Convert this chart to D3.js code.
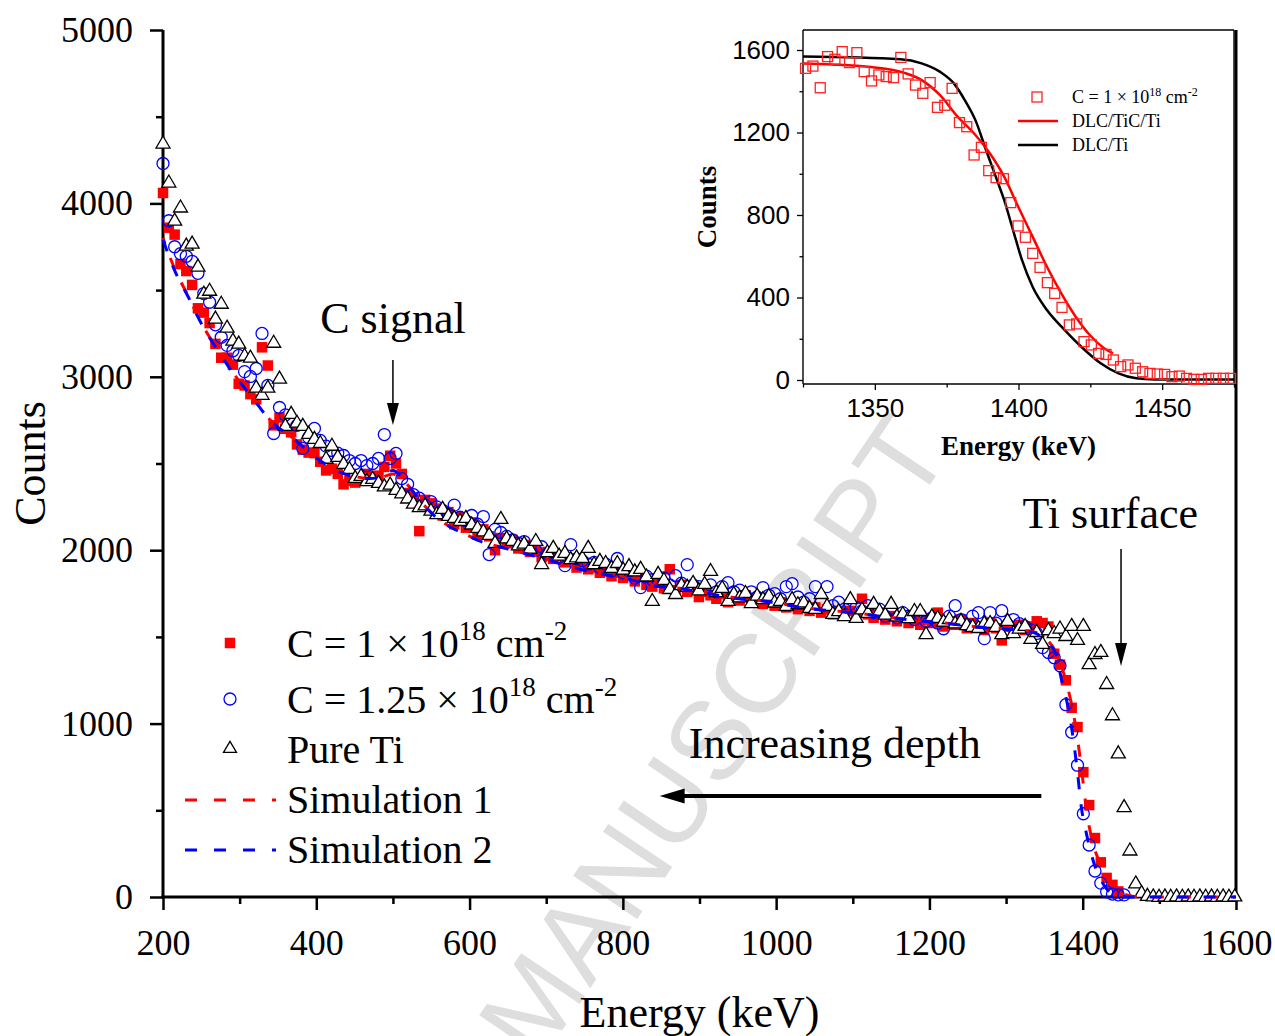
<!DOCTYPE html>
<html><head><meta charset="utf-8">
<script src="https://cdn.jsdelivr.net/npm/d3@7"></script>
<style>body{margin:0;background:#fff}</style>
</head><body>
<svg id="c" width="1275" height="1036" xmlns="http://www.w3.org/2000/svg"></svg>
<script>
// ---------------- DATA ----------------
// main spectra: channel calibration (keV) and counts per channel
const chanStart = 200, chanStep = 7.6;
const countsC1 = [4060,3860,3820,3650,3610,3530,3395,3370,3310,3190,
 3110,3110,3070,2960,2950,2900,2870,3170,3065,2720,
 2765,2700,2680,2610,2580,2563,2560,2510,2460,2470,
 2440,2380,2400,2390,2400,2440,2420,2430,2480,2545,
 2500,2440,2330,2300,2110,2290,2270,2240,2200,2220,
 2150,2190,2130,2160,2090,2120,2080,2000,2070,2040,
 2060,2010,2030,1990,2000,1960,1990,1950,1970,1930,
 1950,1900,1930,1890,1900,1870,1880,1850,1870,1840,
 1860,1820,1850,1800,1790,1830,1780,1890,1770,1800,
 1760,1780,1730,1760,1740,1720,1750,1700,1730,1710,
 1740,1700,1720,1690,1710,1680,1700,1670,1690,1660,
 1680,1650,1670,1640,1660,1630,1650,1640,1650,1620,
 1720,1630,1610,1640,1600,1620,1590,1610,1580,1600,
 1570,1600,1580,1640,1560,1590,1570,1600,1550,1580,
 1560,1540,1580,1550,1480,1560,1530,1570,1540,1560,
 1590,1580,1560,1403,1340,1250,1091,980,720,530,
 340,200,110,70,32];
const countsC125 = [4230,3900,3750,3710,3695,3666,3597,3480,3430,3300,
 3228,3181,3150,3123,3030,3002,3048,3250,2950,2673,
 2823,2780,2740,2720,2587,2650,2702,2633,2600,2575,
 2560,2546,2517,2500,2517,2488,2500,2529,2667,2529,
 2558,2413,2380,2320,2300,2260,2280,2250,2230,2210,
 2260,2190,2170,2200,2150,2194,1975,2120,2102,2080,
 2060,2040,2050,2010,2000,2020,1980,1990,1960,1911,
 2032,1950,1940,1920,1930,1900,1920,1880,1952,1870,
 1880,1840,1784,1850,1830,1820,1840,1800,1853,1810,
 1917,1800,1790,1780,1800,1760,1790,1813,1760,1770,
 1740,1760,1730,1784,1740,1750,1720,1790,1807,1730,
 1700,1720,1790,1700,1790,1680,1700,1660,1690,1670,
 1650,1680,1640,1660,1620,1650,1610,1640,1620,1600,
 1630,1590,1610,1580,1547,1620,1680,1600,1570,1620,
 1640,1490,1640,1580,1651,1570,1600,1576,1560,1540,
 1520,1438,1410,1380,1334,1109,950,760,480,300,
 150,80,30,17,12,12];
const countsTi = [4347,4122,3902,3978,3758,3770,3637,3481,3498,3337,
 3423,3285,3210,3193,3123,3112,2939,2898,2939,3198,
 2991,2719,2788,2737,2719,2673,2644,2620,2529,2604,
 2540,2500,2470,2419,2430,2400,2413,2390,2370,2380,
 2350,2330,2300,2270,2250,2260,2230,2210,2240,2200,
 2188,2170,2188,2150,2130,2110,2090,2044,2182,2070,
 2055,2030,2040,2010,2055,1922,1990,2015,1970,1986,
 1950,1960,1957,2015,1922,1940,1928,1900,1928,1890,
 1910,1880,1894,1850,1709,1865,1830,1778,1749,1800,
 1790,1813,1770,1807,1882,1760,1784,1709,1750,1730,
 1755,1697,1740,1720,1738,1700,1710,1680,1720,1690,
 1700,1669,1663,1749,1680,1634,1650,1622,1720,1611,
 1660,1640,1692,1651,1630,1692,1620,1634,1610,1651,
 1651,1518,1620,1611,1590,1605,1580,1594,1570,1560,
 1553,1580,1582,1560,1518,1594,1524,1550,1565,1490,
 1530,1461,1540,1524,1550,1507,1565,1484,1565,1345,
 1403,1415,1230,1050,830,520,270,80,25,8,
 5,3,5,3,5,3,5,3,5,3,
 5,3,5,3,5];
// simulations
const sim1E = [200,216,233,250,270,292,316,340,370,396,431,470,485,500,515,540,565,590,617,648,692,727,761,805,839,874,913,952,995,1031,1070,1109,1144,1187,1226,1265,1300,1335,1352,1365,1378,1386,1393,1400,1406,1414,1422,1430,1439,1452,1465,1480,1600];
const sim1C = [3800,3615,3465,3310,3165,3020,2885,2750,2645,2548,2452,2415,2420,2440,2395,2262,2162,2102,2048,2011,1959,1913,1873,1838,1798,1780,1751,1722,1702,1672,1653,1636,1615,1595,1578,1557,1547,1530,1490,1410,1247,1100,920,680,470,300,200,120,64,22,5,0,0];
const sim2E = [200,216,233,250,270,292,316,340,370,396,431,470,485,500,515,540,565,590,617,648,692,727,761,805,839,874,913,952,995,1031,1070,1109,1144,1187,1226,1265,1300,1335,1352,1365,1372,1383,1393,1398,1405,1415,1430,1444,1460,1600];
const sim2C = [3790,3605,3460,3307,3162,3018,2883,2748,2644,2546,2450,2413,2425,2460,2400,2260,2160,2100,2046,2009,1957,1911,1871,1836,1796,1778,1749,1720,1700,1670,1651,1634,1613,1593,1576,1555,1545,1526,1478,1401,1260,1045,727,525,363,190,54,5,0,0];
// inset
const insetStart = 1325.9, insetStep = 2.55;
const insetCounts = [1511,1522,1417,1568,1555,1592,1539,1587,1495,1450,
 1479,1471,1466,1564,1484,1430,1390,1442,1322,1332,
 1414,1248,1228,1091,1128,1015,981,976,860,747,
 692,614,546,472,420,352,267,272,186,170,
 129,124,97,65,73,57,40,32,29,27,
 16,19,8,3,3,8,8,8,8];
const tiCE = [1325,1335,1347.7,1360.1,1366.3,1372.6,1378.8,1385,1390,1395,1399.9,1404.9,1409.9,1414.9,1419.9,1424.8,1429.8,1432.9];
const tiCC = [1535,1530,1519,1490,1454,1382,1277,1188,1099,986,840,695,549,420,307,218,154,129];
const dlcE = [1325,1358.9,1366.3,1372.6,1377.5,1381.3,1385,1388.7,1392.5,1395,1398.1,1401.2,1404.9,1409.9,1416.1,1422.4,1428.6,1434.8,1441,1447.3,1475];
const dlcC = [1568,1555,1535,1495,1438,1357,1260,1115,970,873,727,582,452,339,242,154,81,32,8,3,3];
// ticks
const xMajor = [200,400,600,800,1000,1200,1400,1600];
const xMinor = [300,500,700,900,1100,1300,1500];
const yMajor = [0,1000,2000,3000,4000,5000];
const yMinor = [500,1500,2500,3500,4500];
const ixMajor = [1350,1400,1450];
const ixMinor = [1325,1375,1425,1475];
const iyMajor = [0,400,800,1200,1600];
const iyMinor = [200,600,1000,1400];

// ---------------- DRAW ----------------
const serif = "'Liberation Serif','Times New Roman',serif";
const sans = "'Liberation Sans',Arial,sans-serif";
const svg = d3.select('#c');
svg.append('rect').attr('width',1275).attr('height',1036).attr('fill','#fff');

// watermark
svg.append('text').attr('transform','translate(952,452) rotate(-56)')
  .attr('text-anchor','end').attr('font-family',sans).attr('font-size',112)
  .attr('fill','#dedede').text('ACCEPTED MANUSCRIPT');

const x = d3.scaleLinear().domain([200,1600]).range([163,1236]);
const y = d3.scaleLinear().domain([0,5000]).range([897,30]);

function styleAxis(g, size, font){
  g.select('.domain').remove();
  g.selectAll('line').attr('stroke','#000').attr('stroke-width',2.5);
  g.selectAll('text').attr('font-family',font).attr('font-size',size).attr('fill','#000');
}
// x axis
const gx = svg.append('g').attr('transform',`translate(0,${y(0)})`);
gx.call(d3.axisBottom(x).tickValues(xMajor).tickSize(13).tickPadding(19).tickFormat(d3.format('d')));
styleAxis(gx,36,serif);
const gx2 = svg.append('g').attr('transform',`translate(0,${y(0)})`);
gx2.call(d3.axisBottom(x).tickValues(xMinor).tickSize(7).tickFormat(''));
styleAxis(gx2,36,serif);
// y axis
const gy = svg.append('g').attr('transform',`translate(${x(200)},0)`);
gy.call(d3.axisLeft(y).tickValues(yMajor).tickSize(13).tickPadding(17).tickFormat(d3.format('d')));
styleAxis(gy,36,serif);
const gy2 = svg.append('g').attr('transform',`translate(${x(200)},0)`);
gy2.call(d3.axisLeft(y).tickValues(yMinor).tickSize(7).tickFormat(''));
styleAxis(gy2,36,serif);
// axis lines
const axl = svg.append('g').attr('stroke','#000').attr('stroke-width',3);
axl.append('line').attr('x1',x(200)).attr('x2',x(200)).attr('y1',y(5000)).attr('y2',y(0)+1.5);
axl.append('line').attr('x1',x(200)-1.5).attr('x2',x(1600)+1.5).attr('y1',y(0)).attr('y2',y(0));
axl.append('line').attr('x1',x(1600)).attr('x2',x(1600)).attr('y1',y(5000)).attr('y2',y(0));

// axis titles
svg.append('text').attr('x',(x(200)+x(1600))/2).attr('y',1027).attr('text-anchor','middle')
  .attr('font-family',serif).attr('font-size',44).text('Energy (keV)');
svg.append('text').attr('transform',`translate(45,${(y(0)+y(5000))/2}) rotate(-90)`).attr('text-anchor','middle')
  .attr('font-family',serif).attr('font-size',44).text('Counts');

// data
const E = (s,st)=> (d,i)=> s + st*i;
const eC = E(chanStart,chanStep);
const gd = svg.append('g');
gd.selectAll('rect.c1').data(countsC1).join('rect').attr('class','c1')
  .attr('x',(d,i)=>x(eC(d,i))-5.25).attr('y',d=>y(d)-5.25).attr('width',10.5).attr('height',10.5).attr('fill','#ff0000');
gd.selectAll('circle.c2').data(countsC125).join('circle').attr('class','c2')
  .attr('cx',(d,i)=>x(eC(d,i))).attr('cy',d=>y(d)).attr('r',6).attr('fill','none').attr('stroke','#0000ff').attr('stroke-width',1.3);
const tri = (cx,cy,w,h)=>`M${cx},${cy-h*0.6}L${cx+w/2},${cy+h*0.4}L${cx-w/2},${cy+h*0.4}Z`;
gd.selectAll('path.ti').data(countsTi).join('path').attr('class','ti')
  .attr('d',(d,i)=>tri(x(eC(d,i)),y(d),14,12)).attr('fill','#fff').attr('stroke','#000').attr('stroke-width',1.3);

const line = d3.line().x(d=>x(d[0])).y(d=>y(d[1])).curve(d3.curveMonotoneX);
svg.append('path').attr('d',line(sim1E.map((e,i)=>[e,sim1C[i]]))).attr('fill','none')
  .attr('stroke','#ff0000').attr('stroke-width',3).attr('stroke-dasharray','12,15').attr('stroke-dashoffset',6);
svg.append('path').attr('d',line(sim2E.map((e,i)=>[e,sim2C[i]]))).attr('fill','none')
  .attr('stroke','#0000ff').attr('stroke-width',3).attr('stroke-dasharray','12,15');

// annotations (data units)
function arrowV(xe, yTop, yTip, sw, hw, hl){
  const g = svg.append('g');
  g.append('line').attr('x1',x(xe)).attr('x2',x(xe)).attr('y1',y(yTop)).attr('y2',y(yTip)-hl+2)
    .attr('stroke','#000').attr('stroke-width',sw);
  g.append('path').attr('d',`M${x(xe)},${y(yTip)}L${x(xe)-hw},${y(yTip)-hl}L${x(xe)+hw},${y(yTip)-hl}Z`).attr('fill','#000');
}
svg.append('text').attr('x',x(500)).attr('y',y(3252)).attr('text-anchor','middle')
  .attr('font-family',serif).attr('font-size',44).text('C signal');
arrowV(500,3097,2722,1.5,6,22);
svg.append('text').attr('x',x(1436)).attr('y',y(2128)).attr('text-anchor','middle')
  .attr('font-family',serif).attr('font-size',44).text('Ti surface');
arrowV(1450,2007,1332,1.5,6,23);
svg.append('text').attr('x',x(886)).attr('y',y(802))
  .attr('font-family',serif).attr('font-size',44).text('Increasing depth');
svg.append('line').attr('x1',x(1346)).attr('x2',x(848)+22).attr('y1',y(582)).attr('y2',y(582))
  .attr('stroke','#000').attr('stroke-width',4);
svg.append('path').attr('d',`M${x(848)},${y(582)}L${x(848)+25},${y(582)-7.5}L${x(848)+25},${y(582)+7.5}Z`).attr('fill','#000');

// legend
const lg = svg.append('g').attr('font-family',serif).attr('font-size',40);
const rows = [643,699,748,800,850];
lg.append('rect').attr('x',230-5.25).attr('y',rows[0]-5.25).attr('width',10.5).attr('height',10.5).attr('fill','#ff0000');
lg.append('circle').attr('cx',230).attr('cy',rows[1]).attr('r',6).attr('fill','none').attr('stroke','#0000ff').attr('stroke-width',1.3);
lg.append('path').attr('d',tri(230,rows[2],13,11)).attr('fill','#fff').attr('stroke','#000').attr('stroke-width',1.3);
lg.append('line').attr('x1',185).attr('x2',276).attr('y1',rows[3]).attr('y2',rows[3]).attr('stroke','#ff0000').attr('stroke-width',3).attr('stroke-dasharray','12,17');
lg.append('line').attr('x1',185).attr('x2',276).attr('y1',rows[4]).attr('y2',rows[4]).attr('stroke','#0000ff').attr('stroke-width',3).attr('stroke-dasharray','12,17');
function supText(g, xx, yy, parts, size, supSize, raise){
  const t = g.append('text').attr('x',xx).attr('y',yy).attr('font-size',size);
  parts.forEach((p,i)=>{
    const s = t.append('tspan').text(p.t);
    if(p.sup){ s.attr('font-size',supSize).attr('dy',-raise); }
    else if(i>0 && parts[i-1].sup){ s.attr('dy',raise); }
  });
  return t;
}
supText(lg,287,657,[{t:'C = 1 × 10'},{t:'18',sup:1},{t:' cm'},{t:'-2',sup:1}],40,27,17);
supText(lg,287,713,[{t:'C = 1.25 × 10'},{t:'18',sup:1},{t:' cm'},{t:'-2',sup:1}],40,27,17);
lg.append('text').attr('x',287).attr('y',763).text('Pure Ti');
lg.append('text').attr('x',287).attr('y',813).text('Simulation 1');
lg.append('text').attr('x',287).attr('y',863).text('Simulation 2');

// ---------------- INSET ----------------
const ix = d3.scaleLinear().domain([1325,1475]).range([803,1234]);
const iy = d3.scaleLinear().domain([0,1600]).range([380,50]);
const ib = 384, it = 30;
const gi = svg.append('g');
gi.append('rect').attr('x',ix(1325)).attr('y',it).attr('width',ix(1475)-ix(1325)).attr('height',ib-it).attr('fill','#fff');
const gix = gi.append('g').attr('transform',`translate(0,${ib})`);
gix.call(d3.axisBottom(ix).tickValues(ixMajor).tickSize(6).tickPadding(9).tickFormat(d3.format('d')));
const gix2 = gi.append('g').attr('transform',`translate(0,${ib})`);
gix2.call(d3.axisBottom(ix).tickValues(ixMinor).tickSize(3.5).tickFormat(''));
const giy = gi.append('g').attr('transform',`translate(${ix(1325)},0)`);
giy.call(d3.axisLeft(iy).tickValues(iyMajor).tickSize(6).tickPadding(7).tickFormat(d3.format('d')));
const giy2 = gi.append('g').attr('transform',`translate(${ix(1325)},0)`);
giy2.call(d3.axisLeft(iy).tickValues(iyMinor).tickSize(3.5).tickFormat(''));
[gix,gix2,giy,giy2].forEach(g=>{
  g.select('.domain').remove();
  g.selectAll('line').attr('stroke','#000').attr('stroke-width',1.3);
  g.selectAll('text').attr('font-family',sans).attr('font-size',26).attr('fill','#000');
});
const fr = gi.append('g').attr('stroke','#000').attr('stroke-width',1.4);
fr.append('line').attr('x1',ix(1325)).attr('x2',ix(1325)).attr('y1',it).attr('y2',ib);
fr.append('line').attr('x1',ix(1325)).attr('x2',ix(1475)).attr('y1',ib).attr('y2',ib);
fr.append('line').attr('x1',ix(1325)).attr('x2',ix(1475)).attr('y1',it).attr('y2',it);
fr.append('line').attr('x1',ix(1475)).attr('x2',ix(1475)).attr('y1',it).attr('y2',ib);

const iline = d3.line().x(d=>ix(d[0])).y(d=>iy(d[1])).curve(d3.curveMonotoneX);
gi.append('path').attr('d',iline(dlcE.map((e,i)=>[e,dlcC[i]]))).attr('fill','none').attr('stroke','#000').attr('stroke-width',2.5);
gi.append('path').attr('d',iline(tiCE.map((e,i)=>[e,tiCC[i]]))).attr('fill','none').attr('stroke','#ff0000').attr('stroke-width',2.5);
const eI = E(insetStart,insetStep);
gi.selectAll('rect.sq').data(insetCounts).join('rect').attr('class','sq')
  .attr('x',(d,i)=>ix(eI(d,i))-5).attr('y',d=>iy(d)-5).attr('width',10).attr('height',10)
  .attr('fill','none').attr('stroke','#ff2020').attr('stroke-width',1.3);

gi.append('text').attr('x',(ix(1325)+ix(1475))/2).attr('y',455).attr('text-anchor','middle')
  .attr('font-family',serif).attr('font-weight','bold').attr('font-size',27).text('Energy (keV)');
gi.append('text').attr('transform',`translate(716,207) rotate(-90)`).attr('text-anchor','middle')
  .attr('font-family',serif).attr('font-weight','bold').attr('font-size',27).text('Counts');

// inset legend
const il = gi.append('g').attr('font-family',serif).attr('font-size',18);
il.append('rect').attr('x',1037-5).attr('y',97-5).attr('width',10).attr('height',10).attr('fill','none').attr('stroke','#ff2020').attr('stroke-width',1.3);
supText(il,1072,103,[{t:'C = 1 × 10'},{t:'18',sup:1},{t:' cm'},{t:'-2',sup:1}],18,12,7);
il.append('line').attr('x1',1018).attr('x2',1058).attr('y1',121).attr('y2',121).attr('stroke','#ff0000').attr('stroke-width',2.5);
il.append('text').attr('x',1072).attr('y',127).text('DLC/TiC/Ti');
il.append('line').attr('x1',1018).attr('x2',1058).attr('y1',145).attr('y2',145).attr('stroke','#000').attr('stroke-width',2.5);
il.append('text').attr('x',1072).attr('y',151).text('DLC/Ti');
</script></body></html>
